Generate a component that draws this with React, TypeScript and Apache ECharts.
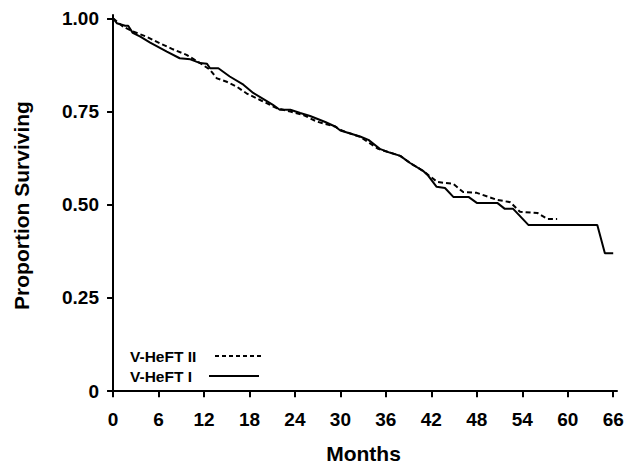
import React, { useEffect, useRef } from "react";
import * as echarts from "echarts";

const xTicks = [0, 6, 12, 18, 24, 30, 36, 42, 48, 54, 60, 66];
const yTicks = [0, 0.25, 0.5, 0.75, 1.0];

const heft1Months = [0, 0.5, 1.6, 2.0, 2.6, 3.6, 4.9, 7.1, 8.8, 10.2, 11.5, 12.4, 12.8, 13.9, 15.4, 17.2, 18.5, 19.8, 21.1, 22.0, 23.4, 24.7, 26.0, 28.0, 29.3, 30.0, 32.6, 33.7, 35.2, 36.5, 37.9, 39.2, 40.9, 41.5, 42.7, 43.8, 44.9, 46.9, 48.0, 50.7, 51.7, 52.8, 54.8, 63.9, 64.9, 66.0];
const heft1Surv = [1.0, 0.987, 0.98, 0.98, 0.961, 0.951, 0.935, 0.911, 0.893, 0.89, 0.88, 0.878, 0.866, 0.866, 0.844, 0.822, 0.8, 0.784, 0.768, 0.755, 0.755, 0.746, 0.738, 0.722, 0.71, 0.699, 0.683, 0.674, 0.65, 0.64, 0.631, 0.612, 0.591, 0.58, 0.548, 0.545, 0.521, 0.521, 0.505, 0.505, 0.489, 0.489, 0.446, 0.446, 0.37, 0.37];

const heft2Months = [0, 1.3, 2.6, 4.4, 6.2, 7.9, 9.7, 11.5, 12.8, 13.7, 15.0, 16.3, 17.6, 19.4, 21.6, 23.4, 25.1, 26.9, 29.3, 30.2, 32.6, 35.0, 37.9, 39.2, 40.9, 42.8, 44.9, 46.2, 48.0, 50.7, 52.4, 53.7, 56.0, 57.3, 58.6];
const heft2Surv = [1.0, 0.978, 0.965, 0.951, 0.933, 0.917, 0.902, 0.88, 0.862, 0.839, 0.83, 0.817, 0.799, 0.781, 0.759, 0.75, 0.741, 0.723, 0.71, 0.699, 0.682, 0.65, 0.631, 0.612, 0.591, 0.561, 0.556, 0.534, 0.532, 0.513, 0.507, 0.481, 0.478, 0.462, 0.462];

const legendLabels = ["V-HeFT II", "V-HeFT I"];

const FONT = "'Liberation Sans', Arial, Helvetica, sans-serif";

export default function App() {
  const ref = useRef<HTMLDivElement>(null);
  useEffect(() => {
    if (!ref.current) return;
    const chart = echarts.init(ref.current, undefined, { renderer: "svg" });
    const d1 = heft1Months.map((m, i) => [m, heft1Surv[i]]);
    const d2 = heft2Months.map((m, i) => [m, heft2Surv[i]]);
    chart.setOption({
      animation: false,
      backgroundColor: "#fff",
      grid: { left: 110, right: 13, top: 15, bottom: 68, containLabel: false, outerBoundsMode: "none" },
      xAxis: {
        type: "value",
        min: -0.4,
        max: 66.5,
        splitLine: { show: false },
        axisLine: { show: true, lineStyle: { color: "#000", width: 2 } },
        axisTick: { show: true, customValues: xTicks, length: 6, lineStyle: { color: "#000", width: 2 } },
        axisLabel: {
          customValues: xTicks,
          color: "#000",
          fontSize: 19,
          fontWeight: "bold",
          fontFamily: FONT,
          margin: 14,
        },
        name: "Months",
        nameLocation: "middle",
        nameGap: 47,
        nameTextStyle: { color: "#000", fontSize: 21, lineHeight: 20, fontWeight: "bold", fontFamily: FONT },
      },
      yAxis: {
        type: "value",
        min: -0.013,
        max: 1.009,
        splitLine: { show: false },
        axisLine: { show: true, lineStyle: { color: "#000", width: 2 } },
        axisTick: { show: true, customValues: yTicks, length: 6, lineStyle: { color: "#000", width: 2 } },
        axisLabel: {
          customValues: yTicks,
          color: "#000",
          fontSize: 19,
          fontWeight: "bold",
          fontFamily: FONT,
          margin: 11,
          formatter: (v: number) => (v === 0 ? "0" : v.toFixed(2)),
        },
        name: "Proportion Surviving",
        nameLocation: "middle",
        nameGap: 78,
        nameTextStyle: { color: "#000", fontSize: 21, fontWeight: "bold", fontFamily: FONT },
      },
      series: [
        {
          name: legendLabels[0],
          type: "line",
          data: d2,
          showSymbol: false,
          symbol: "none",
          lineStyle: { color: "#000", width: 2, type: [5, 3] },
          z: 2,
        },
        {
          name: legendLabels[1],
          type: "line",
          data: d1,
          showSymbol: false,
          symbol: "none",
          lineStyle: { color: "#000", width: 2 },
          z: 3,
        },
      ],
      graphic: [
        {
          type: "text",
          x: 130,
          y: 356,
          style: { text: legendLabels[0], fill: "#000", font: `bold 15.5px ${FONT}`, verticalAlign: "middle" },
        },
        {
          type: "line",
          shape: { x1: 215, y1: 356, x2: 262, y2: 356 },
          style: { stroke: "#000", lineWidth: 2, lineDash: [4, 3] },
        },
        {
          type: "text",
          x: 130,
          y: 376,
          style: { text: legendLabels[1], fill: "#000", font: `bold 15.5px ${FONT}`, verticalAlign: "middle" },
        },
        {
          type: "line",
          shape: { x1: 209, y1: 376, x2: 259, y2: 376 },
          style: { stroke: "#000", lineWidth: 2 },
        },
      ],
    });
    return () => chart.dispose();
  }, []);
  return (
    <div
      ref={ref}
      style={{ position: "fixed", left: 0, top: 0, width: 630, height: 464 }}
    />
  );
}
